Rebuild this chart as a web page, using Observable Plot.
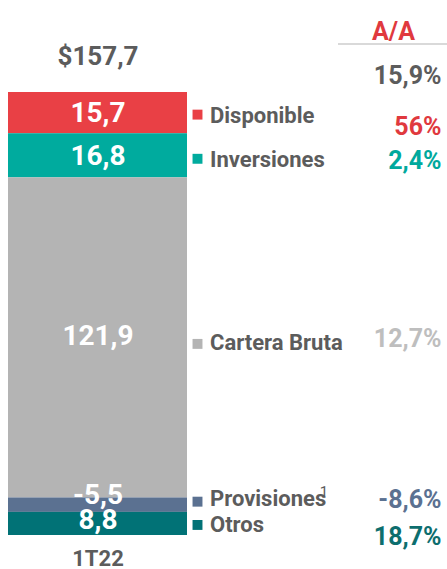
<!DOCTYPE html>
<html><head><meta charset="utf-8">
<script src="https://cdn.jsdelivr.net/npm/d3@7"></script>
<script src="https://cdn.jsdelivr.net/npm/@observablehq/plot@0.6"></script>
<style>
body{margin:0;background:#fff;}
#chart svg{display:block;font-family:Roboto,"Noto Sans",sans-serif;}
</style>
</head><body><div id="chart"></div>
<script>
// ---- data ----
const period = "1T22";
const categories = ["Disponible", "Inversiones", "Cartera Bruta", "Provisiones", "Otros"];
const values = [15.7, 16.8, 121.9, -5.5, 8.8];
const valueLabels = ["15,7", "16,8", "121,9", "-5,5", "8,8"];
const yoyLabels = ["56%", "2,4%", "12,7%", "-8,6%", "18,7%"];
const totalLabel = "$157,7";
const totalYoY = "15,9%";
const headerLabel = "A/A";
const footnoteCategory = "Provisiones";
const footnoteMark = "1";

// ---- styles ----
const colors = ["#E94045", "#00AB9E", "#B4B4B4", "#5B7191", "#017276"];
const yoyColors = ["#E0393E", "#00A99D", "#BEBEBE", "#5B7191", "#0D6E6E"];
const textGray = "#5C5C5C";
const nudgeBar = [0, 0, -2, -10, -4];
const nudgeSq = [1.5, 3, 6, -3.5, 1];
const nudgeKey = [2.5, 4, 5, -6, 1];
const nudgePct = [13.5, 5, 1, -5.5, 13.5];

const rows = categories.map((c, i) => ({cat: c, period, value: values[i], size: Math.abs(values[i])}));
const total = d3.sum(rows, d => d.size);
const stack = o => Plot.stackY({x: "period", y: "size", reverse: true, ...o});

const perCat = categories.flatMap((c, i) => {
  const only = o => Plot.filter(d => d.cat === c, stack(o));
  return [
    Plot.text(rows, only({text: () => valueLabels[i], fill: "white", fontSize: 28, fontWeight: 700, dy: nudgeBar[i]})),
    Plot.dot(rows, only({symbol: "square", r: 5.6, fill: "cat", stroke: null, dx: 99.5, dy: nudgeSq[i]})),
    Plot.text(rows, only({text: "cat", fill: textGray, fontSize: 22, fontWeight: 700, textAnchor: "start", dx: 112, dy: nudgeKey[i]})),
    Plot.text(rows, only({text: () => yoyLabels[i], fill: yoyColors[i], fontSize: 25, fontWeight: 700, textAnchor: "end", dx: 343.5, dy: nudgePct[i]}))
  ];
});

const chart = Plot.plot({
  width: 447,
  height: 569,
  marginTop: 0, marginRight: 0, marginLeft: 0, marginBottom: 34,
  style: {fontFamily: "Roboto, 'Noto Sans', sans-serif", background: "white"},
  x: {type: "band", domain: [period], range: [8, 187], padding: 0, axis: null},
  y: {domain: [0, total], range: [535, 92], axis: null},
  color: {domain: categories, range: colors},
  marks: [
    Plot.barY(rows, stack({fill: "cat"})),
    ...perCat,
    Plot.text(rows, Plot.filter(d => d.cat === footnoteCategory, stack({text: () => footnoteMark, fill: textGray, fontSize: 15, dx: 226, dy: -13}))),
    Plot.text([total], {x: () => period, y: d => d, text: () => totalLabel, fill: textGray, fontSize: 26, fontWeight: 700, dy: -36}),
    Plot.axisX({tickSize: 0, tickPadding: 15, fontSize: 22, fontWeight: 700, fill: textGray, label: null}),
    Plot.text([headerLabel], {frameAnchor: "top-right", text: d => d, fill: "#E0393E", fontSize: 25, fontWeight: 700, textAnchor: "middle", dx: -54, dy: 22}),
    Plot.text([totalYoY], {frameAnchor: "top-right", text: d => d, fill: textGray, fontSize: 25, fontWeight: 700, textAnchor: "end", dx: -6, dy: 66})
  ]
});

// header divider under "A/A"
d3.select(chart).append("line")
  .attr("x1", 338).attr("x2", 447).attr("y1", 44).attr("y2", 44)
  .attr("stroke", "#D9D9D9").attr("stroke-width", 2);

document.getElementById("chart").append(chart);
</script>
</body></html>
